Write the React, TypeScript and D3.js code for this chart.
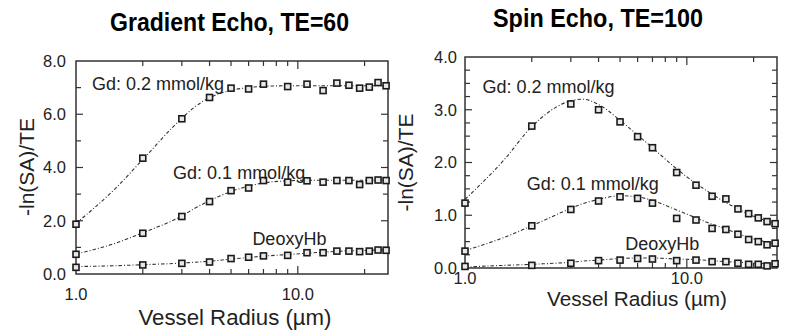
import React, { useRef, useEffect } from 'react';
import * as d3 from 'd3';

// vessel radius (µm) of the measured points
const radius = [1, 2, 3, 4, 5, 6, 7, 9, 11, 13, 15, 17, 19, 21, 23, 25];

// Gradient echo, TE=60
const geGd02 = [1.87, 4.35, 5.83, 6.63, 6.98, 6.95, 7.13, 7.04, 7.13, 6.89, 7.17, 7.09, 6.98, 7.02, 7.19, 7.07];
const geGd01 = [0.74, 1.53, 2.16, 2.72, 3.13, 3.23, 3.51, 3.45, 3.5, 3.45, 3.51, 3.51, 3.36, 3.51, 3.53, 3.51];
const geDeoxy = [0.25, 0.34, 0.4, 0.45, 0.58, 0.63, 0.68, 0.7, 0.8, 0.8, 0.86, 0.86, 0.84, 0.86, 0.9, 0.89];

// Spin echo, TE=100
const seGd02 = [1.23, 2.69, 3.11, 3.0, 2.77, 2.49, 2.28, 1.81, 1.57, 1.36, 1.31, 1.12, 1.03, 0.95, 0.88, 0.84];
const seGd01 = [0.32, 0.8, 1.11, 1.27, 1.35, 1.32, 1.23, 0.94, 0.91, 0.75, 0.73, 0.64, 0.54, 0.5, 0.44, 0.47];
const seDeoxy = [0.03, 0.05, 0.09, 0.14, 0.15, 0.18, 0.17, 0.14, 0.15, 0.12, 0.12, 0.09, 0.07, 0.07, 0.04, 0.08];

// fitted curves
const fitRadius = [1, 1.5, 2, 3, 3.4, 4, 5, 6, 7, 9, 11, 13, 15, 17, 19, 21, 23, 25.5];
const geFit02 = [1.9, 3.2, 4.3, 5.85, 6.25, 6.62, 6.9, 7.0, 7.05, 7.07, 7.07, 7.07, 7.07, 7.07, 7.07, 7.07, 7.07, 7.07];
const geFit01 = [0.75, 1.15, 1.55, 2.18, 2.45, 2.75, 3.1, 3.3, 3.42, 3.5, 3.52, 3.52, 3.52, 3.52, 3.52, 3.52, 3.52, 3.52];
const geFitDeoxy = [0.28, 0.31, 0.35, 0.41, 0.44, 0.48, 0.56, 0.62, 0.67, 0.73, 0.78, 0.82, 0.85, 0.87, 0.88, 0.89, 0.9, 0.9];
const seFit02 = [1.3, 2.05, 2.68, 3.17, 3.2, 3.1, 2.8, 2.52, 2.28, 1.88, 1.6, 1.4, 1.24, 1.12, 1.02, 0.95, 0.89, 0.84];
const seFit01 = [0.33, 0.58, 0.8, 1.13, 1.22, 1.3, 1.37, 1.35, 1.28, 1.1, 0.95, 0.83, 0.74, 0.65, 0.58, 0.53, 0.49, 0.45];
const seFitDeoxy = [0.02, 0.05, 0.07, 0.11, 0.13, 0.15, 0.18, 0.19, 0.19, 0.17, 0.16, 0.14, 0.12, 0.11, 0.1, 0.09, 0.08, 0.07];

const seriesNames = ['Gd: 0.2 mmol/kg', 'Gd: 0.1 mmol/kg', 'DeoxyHb'];
const xMajor = [1, 10];
const xMinor = [2, 3, 4, 5, 6, 7, 8, 9, 20];

const FONT = 'Liberation Sans, Arial, Helvetica, sans-serif';

interface PanelCfg {
    title: string; titleX: number; titleY: number; titleLen: number;
    x0: number; x1: number; y0: number; y1: number;
    yMax: number; yStep: number; yLabelStep: number;
    xTickBase: number; yTickRight: number;
    yLabX: number; yLabY: number;
    xLabX: number; xLabY: number; xLabSize: number; xLabLen: number;
    points: number[][]; fits: number[][];
    labelAt: [number, number][];
}

const panels: PanelCfg[] = [
    {
        title: 'Gradient Echo, TE=60', titleX: 229.5, titleY: 31, titleLen: 239,
        x0: 76, x1: 388, y0: 61, y1: 274,
        yMax: 8, yStep: 1, yLabelStep: 2,
        xTickBase: 300, yTickRight: 66,
        yLabX: 34, yLabY: 167,
        xLabX: 235, xLabY: 325, xLabSize: 22, xLabLen: 193,
        points: [geGd02, geGd01, geDeoxy],
        fits: [geFit02, geFit01, geFitDeoxy],
        labelAt: [[1.18, 6.92], [2.74, 3.56], [6.24, 1.09]],
    },
    {
        title: 'Spin Echo, TE=100', titleX: 598, titleY: 27, titleLen: 210,
        x0: 465, x1: 777, y0: 57, y1: 268,
        yMax: 4, yStep: 0.25, yLabelStep: 1,
        xTickBase: 284, yTickRight: 457,
        yLabX: 413, yLabY: 162.5,
        xLabX: 637, xLabY: 306, xLabSize: 20.5, xLabLen: 180,
        points: [seGd02, seGd01, seDeoxy],
        fits: [seFit02, seFit01, seFitDeoxy],
        labelAt: [[1.2, 3.31], [1.9, 1.48], [5.28, 0.34]],
    },
];

const App: React.FC = () => {
    const svgRef = useRef<SVGSVGElement | null>(null);
    const width = 788, height = 331;

    useEffect(() => {
        if (!svgRef.current) return;
        const svg = d3.select(svgRef.current);
        svg.selectAll('*').remove();

        svg.append('rect').attr('width', width).attr('height', height).attr('fill', '#fff');

        panels.forEach((p) => {
            const x = d3.scaleLog().domain([1, 25.5]).range([p.x0, p.x1]);
            const y = d3.scaleLinear().domain([0, p.yMax]).range([p.y1, p.y0]);
            const g = svg.append('g');

            // title
            g.append('text')
                .attr('x', p.titleX).attr('y', p.titleY)
                .attr('text-anchor', 'middle')
                .attr('font-family', FONT).attr('font-weight', 'bold').attr('font-size', 25)
                .attr('textLength', p.titleLen).attr('lengthAdjust', 'spacingAndGlyphs')
                .text(p.title);

            // y ticks on both sides, inward
            const yTicks = d3.range(0, p.yMax + 1e-6, p.yStep);
            yTicks.forEach((v) => {
                const labeled = Math.abs(v / p.yLabelStep - Math.round(v / p.yLabelStep)) < 1e-6;
                const len = labeled ? 7 : 5;
                if (v > 0 && v < p.yMax) {
                    g.append('line').attr('x1', p.x0).attr('x2', p.x0 + len)
                        .attr('y1', y(v)).attr('y2', y(v)).attr('stroke', '#333').attr('stroke-width', 1.2);
                    g.append('line').attr('x1', p.x1).attr('x2', p.x1 - len)
                        .attr('y1', y(v)).attr('y2', y(v)).attr('stroke', '#333').attr('stroke-width', 1.2);
                }
                if (labeled) {
                    g.append('text')
                        .attr('x', p.yTickRight).attr('y', y(v)).attr('dy', '0.36em')
                        .attr('text-anchor', 'end')
                        .attr('font-family', FONT).attr('font-size', 16.5).attr('fill', '#222')
                        .text(v.toFixed(1));
                }
            });

            // x ticks top and bottom, inward
            [...xMajor.map((v) => [v, 8]), ...xMinor.map((v) => [v, 5])].forEach(([v, len]) => {
                if (v <= 1) return;
                g.append('line').attr('x1', x(v)).attr('x2', x(v))
                    .attr('y1', p.y1).attr('y2', p.y1 - len).attr('stroke', '#333').attr('stroke-width', 1.2);
                g.append('line').attr('x1', x(v)).attr('x2', x(v))
                    .attr('y1', p.y0).attr('y2', p.y0 + len).attr('stroke', '#333').attr('stroke-width', 1.2);
            });
            xMajor.forEach((v) => {
                g.append('text')
                    .attr('x', x(v)).attr('y', p.xTickBase)
                    .attr('text-anchor', 'middle')
                    .attr('font-family', FONT).attr('font-size', 16.5).attr('fill', '#222')
                    .text(v.toFixed(1));
            });

            // frame
            g.append('rect')
                .attr('x', p.x0).attr('y', p.y0)
                .attr('width', p.x1 - p.x0).attr('height', p.y1 - p.y0)
                .attr('fill', 'none').attr('stroke', '#333').attr('stroke-width', 1.5);

            // axis titles
            g.append('text')
                .attr('transform', `translate(${p.yLabX},${p.yLabY}) rotate(-90)`)
                .attr('text-anchor', 'middle')
                .attr('font-family', FONT).attr('font-size', 20.5).attr('fill', '#222')
                .attr('textLength', 98).attr('lengthAdjust', 'spacingAndGlyphs')
                .text('-ln(SA)/TE');
            g.append('text')
                .attr('x', p.xLabX).attr('y', p.xLabY)
                .attr('text-anchor', 'middle')
                .attr('font-family', FONT).attr('font-size', p.xLabSize).attr('fill', '#222')
                .attr('textLength', p.xLabLen).attr('lengthAdjust', 'spacingAndGlyphs')
                .text('Vessel Radius (µm)');

            // fitted curves
            const line = d3.line<number>()
                .x((_, i) => x(fitRadius[i]))
                .y((d) => y(d))
                .curve(d3.curveMonotoneX);
            p.fits.forEach((f) => {
                g.append('path')
                    .attr('d', line(f))
                    .attr('fill', 'none').attr('stroke', '#333').attr('stroke-width', 1.1)
                    .attr('stroke-dasharray', '3.5 2 1 2');
            });

            // data markers: open squares
            const s = 6;
            p.points.forEach((vals) => {
                g.append('g').selectAll('rect')
                    .data(vals)
                    .join('rect')
                    .attr('x', (_, i) => x(radius[i]) - s / 2)
                    .attr('y', (d) => y(d) - s / 2)
                    .attr('width', s).attr('height', s)
                    .attr('fill', '#e8e8e8').attr('stroke', '#1a1a1a').attr('stroke-width', 1.6);
            });

            // series labels
            p.labelAt.forEach(([r, v], i) => {
                g.append('text')
                    .attr('x', x(r)).attr('y', y(v))
                    .attr('font-family', FONT).attr('font-size', 18).attr('fill', '#222')
                    .text(seriesNames[i]);
            });
        });
    }, []);

    return (
        <svg
            ref={svgRef}
            width={width}
            height={height}
            style={{ position: 'absolute', left: 0, top: 0 }}
        ></svg>
    );
};

export default App;
